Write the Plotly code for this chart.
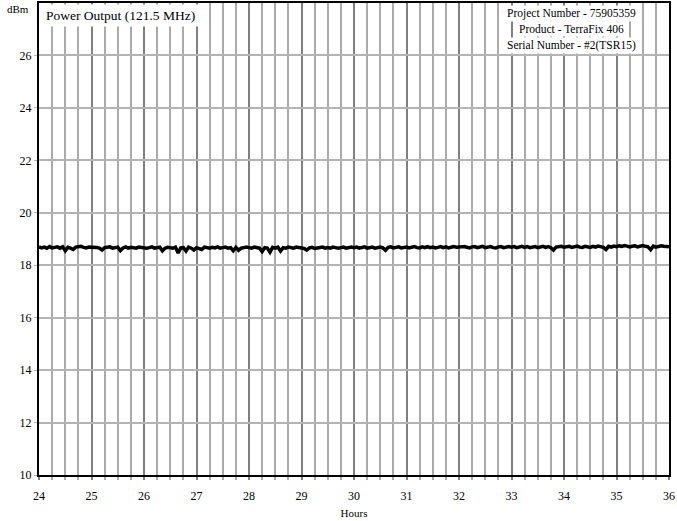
import plotly.graph_objects as go

hours_start = 24.0
hours_step = 0.05
power_dbm = [
    18.70,18.66,18.69,18.65,18.71,18.66,18.68,18.70,18.65,18.70,18.55,18.68,18.65,18.60,18.69,18.71,18.72,18.68,18.66,18.69,
    18.69,18.66,18.68,18.65,18.58,18.67,18.69,18.70,18.65,18.67,18.69,18.56,18.66,18.70,18.65,18.68,18.66,18.65,18.69,18.67,
    18.68,18.65,18.67,18.70,18.65,18.67,18.69,18.55,18.65,18.68,18.67,18.65,18.69,18.47,18.66,18.67,18.54,18.69,18.65,18.58,
    18.67,18.65,18.60,18.69,18.67,18.65,18.68,18.66,18.70,18.65,18.67,18.69,18.65,18.67,18.55,18.68,18.57,18.65,18.67,18.69,
    18.67,18.65,18.69,18.67,18.65,18.52,18.67,18.65,18.50,18.68,18.65,18.69,18.54,18.67,18.65,18.69,18.66,18.65,18.69,18.67,
    18.66,18.64,18.58,18.66,18.68,18.64,18.66,18.68,18.69,18.65,18.67,18.65,18.69,18.67,18.65,18.67,18.69,18.65,18.67,18.69,
    18.67,18.69,18.65,18.67,18.70,18.65,18.67,18.69,18.65,18.67,18.69,18.66,18.57,18.68,18.70,18.66,18.68,18.70,18.66,18.69,
    18.69,18.66,18.68,18.71,18.67,18.66,18.70,18.67,18.71,18.67,18.69,18.66,18.68,18.71,18.67,18.70,18.66,18.68,18.71,18.69,
    18.68,18.70,18.71,18.67,18.66,18.70,18.71,18.67,18.69,18.72,18.67,18.69,18.71,18.67,18.66,18.70,18.71,18.67,18.69,18.71,
    18.69,18.71,18.67,18.69,18.72,18.68,18.71,18.67,18.69,18.71,18.67,18.69,18.72,18.68,18.71,18.67,18.58,18.69,18.71,18.72,
    18.69,18.71,18.72,18.68,18.70,18.73,18.69,18.68,18.72,18.70,18.68,18.72,18.69,18.73,18.70,18.68,18.60,18.72,18.69,18.73,
    18.71,18.74,18.72,18.75,18.73,18.70,18.72,18.74,18.70,18.72,18.75,18.72,18.70,18.59,18.73,18.69,18.71,18.74,18.72,18.70,
    18.70,
]
hours = [hours_start + i * hours_step for i in range(len(power_dbm))]

x_ticks = list(range(24, 37))
y_ticks = list(range(10, 28, 2))

chart_title = "Power Output (121.5 MHz)"
info_lines = ["Project Number - 75905359", "Product - TerraFix 406", "Serial Number - #2(TSR15)"]

FONT = "Liberation Serif, Times New Roman, serif"

fig = go.Figure()
fig.add_trace(go.Scatter(
    x=hours, y=power_dbm, mode="lines",
    line=dict(color="black", width=3.5),
    showlegend=False, hoverinfo="skip",
))

fig.update_layout(
    width=677, height=521,
    margin=dict(l=39, r=8, t=3, b=46, autoexpand=False),
    paper_bgcolor="white", plot_bgcolor="white",
    font=dict(family=FONT, size=12, color="black"),
    xaxis=dict(
        range=[24, 36], tickvals=x_ticks, ticktext=[str(v) for v in x_ticks],
        showgrid=True, gridcolor="#808080", gridwidth=2,
        showline=True, linecolor="black", linewidth=2, mirror=True,
        ticks="outside", ticklen=3, tickcolor="#808080", tickwidth=2,
        minor=dict(dtick=0.25, tick0=24, showgrid=True, gridcolor="#ababab", gridwidth=2,
                   ticks="outside", ticklen=3, tickcolor="#ababab"),
        zeroline=False, ticklabeloverflow="allow", automargin=False,
        ticklabelstandoff=6,
        title=dict(text="Hours", font=dict(family=FONT, size=11), standoff=7),
        tickfont=dict(family=FONT, size=12),
    ),
    yaxis=dict(
        range=[10, 28], tickvals=y_ticks, ticktext=[str(v) for v in y_ticks],
        showgrid=True, gridcolor="#b4b4b4", gridwidth=2,
        showline=True, linecolor="black", linewidth=2, mirror=True,
        ticks="outside", ticklen=3, tickcolor="#b4b4b4",
        zeroline=False, automargin=False,
        tickfont=dict(family=FONT, size=12),
    ),
)

fig.add_annotation(
    xref="paper", yref="paper", x=0.005, y=0.998, xanchor="left", yanchor="top",
    text=chart_title, showarrow=False, bgcolor="white", borderpad=3,
    font=dict(family=FONT, size=13.5),
)
fig.add_annotation(
    xref="paper", yref="paper", x=-0.033, y=0.988, xanchor="center", yanchor="middle",
    text="dBm", showarrow=False, font=dict(family=FONT, size=11),
)
info_y = [0.977, 0.944, 0.911]
for line, yy in zip(info_lines, info_y):
    fig.add_annotation(
        xref="paper", yref="paper", x=0.845, y=yy, xanchor="center", yanchor="middle",
        text=line, showarrow=False, bgcolor="white", borderpad=1,
        font=dict(family=FONT, size=11.5),
    )

fig.write_html("out.html", config={"displayModeBar": False},
               post_script="document.body.style.margin='0px';")
